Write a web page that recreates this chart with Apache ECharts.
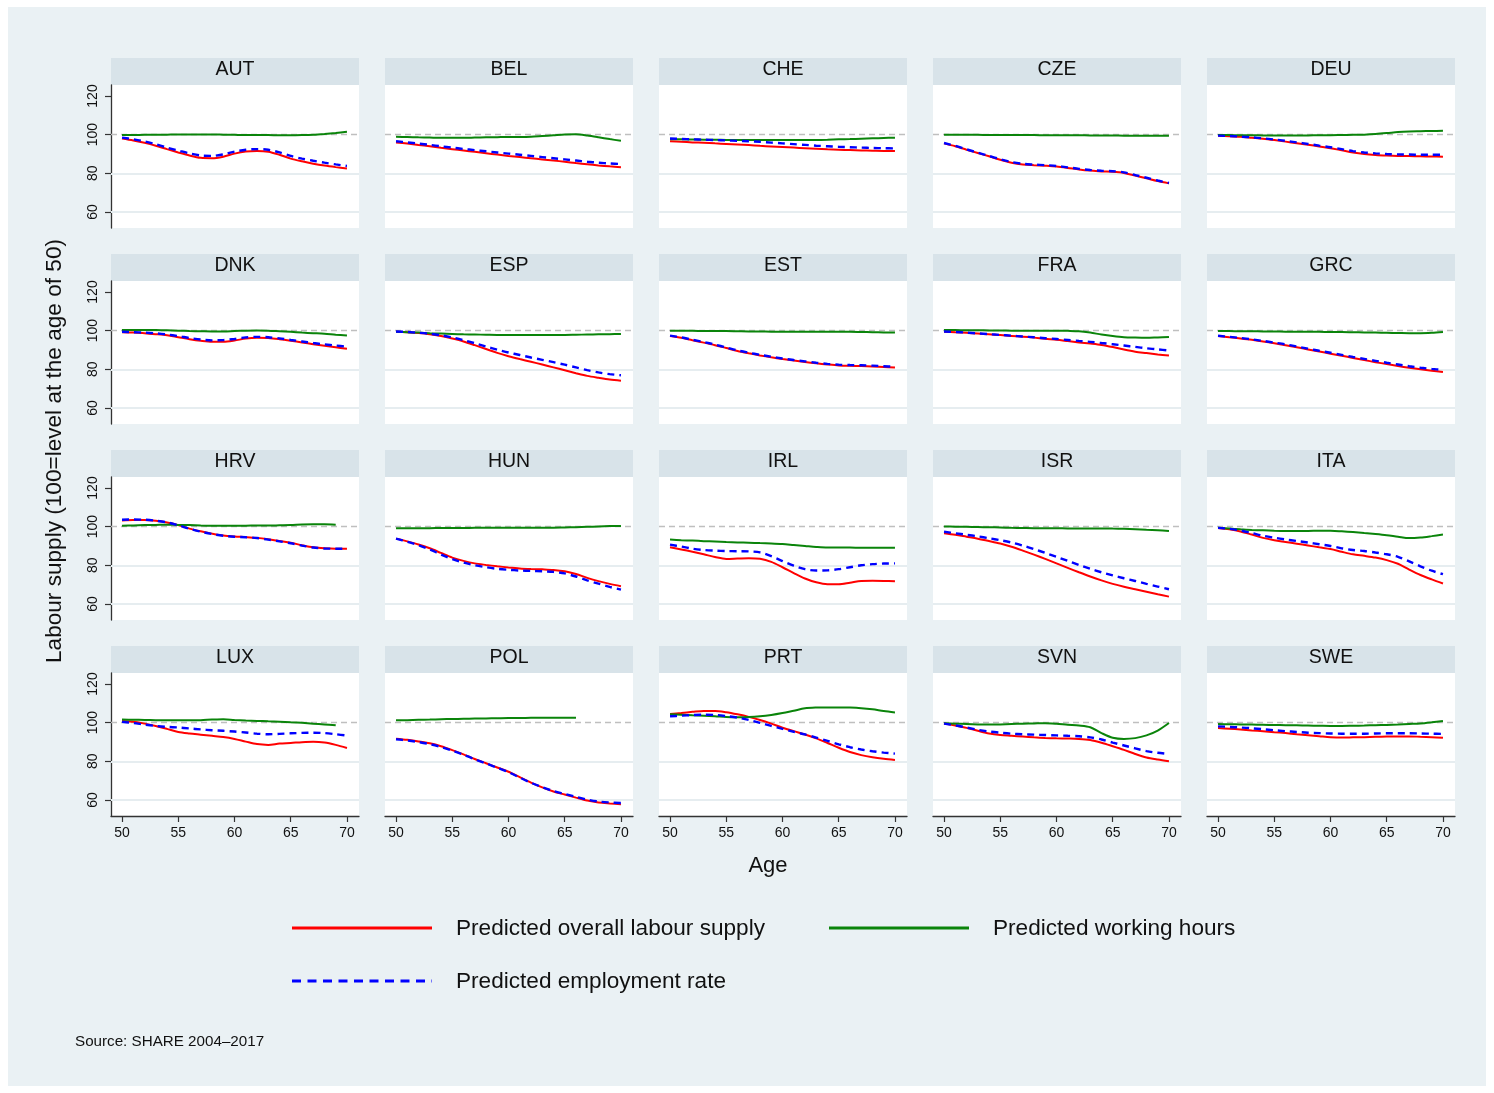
<!DOCTYPE html>
<html>
<head>
<meta charset="utf-8">
<title>Labour supply by age</title>
<script src="https://cdn.jsdelivr.net/npm/echarts@6/dist/echarts.min.js"></script>
<style>
  html, body { margin: 0; padding: 0; background: #ffffff; }
  #chart { width: 1494px; height: 1093px; }
</style>
</head>
<body>
<div id="chart"></div>
<script>
// Ages on the horizontal axis
const ages = [50, 51, 52, 53, 54, 55, 56, 57, 58, 59, 60, 61, 62, 63, 64, 65, 66, 67, 68, 69, 70];
const countries = ['AUT', 'BEL', 'CHE', 'CZE', 'DEU', 'DNK', 'ESP', 'EST', 'FRA', 'GRC',
                   'HRV', 'HUN', 'IRL', 'ISR', 'ITA', 'LUX', 'POL', 'PRT', 'SVN', 'SWE'];
const yTicks = [60, 80, 100, 120];
const xTicks = [50, 55, 60, 65, 70];
const seriesNames = ['Predicted overall labour supply', 'Predicted working hours', 'Predicted employment rate'];

// Predicted overall labour supply (100 = level at age 50), one row per country
const laborSupply = [
  [98, 97, 95.8, 94.3, 92.5, 90.8, 89.2, 88, 87.8, 88.6, 90.2, 91.3, 91.6, 91.2, 89.6, 87.6, 86.2, 85, 84, 83.2, 82.5],
  [96, 95.4, 94.7, 94, 93.2, 92.5, 91.8, 91.1, 90.4, 89.7, 89, 88.4, 87.8, 87.2, 86.6, 86, 85.3, 84.7, 84.1, 83.6, 83.2],
  [96.6, 96.3, 96, 95.8, 95.5, 95.2, 94.9, 94.6, 94.2, 93.9, 93.6, 93.3, 93, 92.7, 92.4, 92.2, 92, 91.8, 91.7, 91.6, 91.6],
  [95.5, 94, 92.2, 90.5, 88.8, 87, 85.5, 84.6, 84.2, 83.9, 83.5, 82.8, 82, 81.4, 81, 80.8, 80.2, 78.8, 77.4, 76, 74.8],
  [99.4, 99.2, 98.9, 98.4, 97.9, 97.2, 96.4, 95.6, 94.8, 93.9, 93, 91.9, 90.8, 90, 89.5, 89.2, 89, 88.9, 88.8, 88.7, 88.6],
  [99.2, 99, 98.7, 98.2, 97.6, 96.6, 95.6, 94.8, 94.3, 94.3, 94.9, 95.9, 96.3, 96.2, 95.6, 94.8, 93.9, 93, 92.2, 91.4, 90.6],
  [99.5, 99.2, 98.8, 98.2, 97.2, 95.9, 94.4, 92.5, 90.5, 88.5, 86.8, 85.3, 83.9, 82.5, 81, 79.5, 78, 76.6, 75.6, 74.7, 74.1],
  [97.2, 96.3, 95, 93.8, 92.5, 91, 89.5, 88.3, 87.2, 86.2, 85.3, 84.5, 83.8, 83.1, 82.5, 82, 81.8, 81.7, 81.5, 81.2, 80.9],
  [99.5, 99.2, 98.9, 98.5, 98.1, 97.7, 97.3, 96.9, 96.4, 95.8, 95.3, 94.6, 93.9, 93.3, 92.6, 91.5, 90.2, 89.1, 88.4, 87.7, 87.1],
  [97.2, 96.6, 96, 95.3, 94.4, 93.5, 92.5, 91.4, 90.3, 89.2, 88.1, 87, 85.9, 84.8, 83.7, 82.7, 81.7, 80.8, 80, 79.3, 78.6],
  [103.2, 103.4, 103.4, 103, 102.2, 100.8, 99, 97.6, 96.4, 95.4, 94.9, 94.6, 94.2, 93.5, 92.6, 91.7, 90.4, 89.3, 88.8, 88.6, 88.6],
  [93.8, 92.4, 90.8, 88.8, 86.4, 84, 82.3, 81, 80.2, 79.5, 78.9, 78.4, 78.1, 77.9, 77.6, 76.9, 75.5, 73.5, 71.8, 70.4, 69.2],
  [89.3, 88.2, 87, 85.7, 84.3, 83.3, 83.5, 83.7, 83.4, 81.8, 79, 76, 73.2, 71.2, 70.2, 70.2, 71, 71.9, 72, 71.9, 71.7],
  [96.6, 95.8, 94.8, 93.8, 92.6, 91.3, 89.6, 87.6, 85.5, 83.3, 81, 78.7, 76.4, 74.2, 72.2, 70.4, 68.9, 67.6, 66.3, 65, 63.8],
  [99.3, 98.6, 97.5, 95.9, 94.2, 93, 92.1, 91.2, 90.3, 89.3, 88.4, 87, 85.7, 84.9, 84, 82.7, 80.8, 77.8, 75, 72.7, 70.6],
  [100.9, 100.5, 99.5, 98.3, 96.8, 95.2, 94.4, 93.8, 93.2, 92.6, 91.6, 90.2, 88.9, 88.5, 89.2, 89.5, 89.9, 90.1, 89.7, 88.5, 86.9],
  [91.7, 91.1, 90.3, 89.3, 87.8, 85.8, 83.6, 81.2, 79, 76.8, 74.6, 71.8, 69, 66.5, 64.4, 62.8, 61.2, 59.7, 58.7, 58.2, 57.8],
  [104.5, 105, 105.6, 106.1, 106.1, 105.4, 104.3, 103, 101.4, 99.5, 97.4, 95.6, 93.9, 91.9, 89.5, 87, 84.8, 83.2, 82.1, 81.3, 80.7],
  [99.6, 98.5, 97.3, 95.8, 94.4, 93.6, 93.2, 92.8, 92.4, 92.1, 91.9, 91.8, 91.6, 91, 89.6, 87.8, 85.9, 83.8, 82, 80.9, 80],
  [97.2, 96.9, 96.5, 96, 95.6, 95.1, 94.6, 94, 93.5, 93, 92.5, 92.3, 92.4, 92.5, 92.7, 92.8, 92.9, 92.9, 92.7, 92.5, 92.2]
];

// Predicted employment rate (100 = level at age 50)
const employmentRate = [
  [98.5, 97.6, 96.5, 95, 93.3, 91.8, 90.3, 89.2, 89, 89.8, 91.2, 92.2, 92.5, 92.2, 90.8, 89, 87.6, 86.5, 85.5, 84.6, 83.8],
  [96.6, 96, 95.4, 94.7, 94, 93.3, 92.6, 92, 91.4, 90.8, 90.2, 89.6, 89, 88.4, 87.8, 87.2, 86.6, 86, 85.5, 85.1, 84.8],
  [98, 97.8, 97.6, 97.4, 97.2, 97, 96.8, 96.6, 96.3, 95.9, 95.5, 95.1, 94.7, 94.3, 94, 93.7, 93.5, 93.3, 93.1, 93, 92.9],
  [95.7, 94.2, 92.4, 90.7, 89, 87.3, 85.8, 84.9, 84.5, 84.2, 83.8, 83.1, 82.3, 81.7, 81.3, 81.1, 80.5, 79.1, 77.7, 76.3, 75],
  [99.5, 99.3, 99, 98.6, 98.1, 97.5, 96.8, 96, 95.2, 94.3, 93.5, 92.5, 91.5, 90.8, 90.3, 90, 89.8, 89.7, 89.6, 89.6, 89.6],
  [99.4, 99.2, 99, 98.6, 98, 97.2, 96.2, 95.4, 95, 95.1, 95.7, 96.5, 96.8, 96.6, 96, 95.2, 94.4, 93.6, 92.9, 92.3, 91.7],
  [99.6, 99.3, 98.9, 98.4, 97.6, 96.5, 95.1, 93.5, 91.8, 90.2, 88.7, 87.4, 86.1, 84.9, 83.7, 82.4, 81, 79.6, 78.4, 77.5, 76.9],
  [97.4, 96.5, 95.3, 94.1, 92.8, 91.3, 89.8, 88.6, 87.5, 86.5, 85.6, 84.8, 84.1, 83.4, 82.8, 82.4, 82.2, 82.1, 81.9, 81.6, 81.3],
  [99.6, 99.3, 99, 98.6, 98.2, 97.8, 97.4, 97, 96.6, 96.1, 95.7, 95.2, 94.7, 94.2, 93.6, 93, 92.3, 91.6, 90.9, 90.3, 89.7],
  [97.4, 96.8, 96.2, 95.5, 94.7, 93.8, 92.9, 91.8, 90.7, 89.6, 88.6, 87.5, 86.4, 85.4, 84.4, 83.4, 82.5, 81.6, 80.8, 80.2, 79.7],
  [103.6, 103.7, 103.6, 103.1, 102.2, 100.7, 98.9, 97.4, 96.2, 95.3, 94.8, 94.5, 94.1, 93.3, 92.4, 91.4, 90.2, 89.2, 88.7, 88.6, 88.6],
  [93.8, 92.2, 90.4, 88.2, 85.6, 83.2, 81.4, 80, 79, 78.2, 77.7, 77.3, 77.1, 76.9, 76.6, 75.8, 74.2, 72.2, 70.5, 68.8, 67.4],
  [90.7, 89.7, 88.6, 87.9, 87.6, 87.4, 87.3, 87.2, 86.7, 84.8, 82.2, 79.8, 78, 77.3, 77.4, 78, 79, 80, 80.6, 80.9, 81],
  [97.4, 96.6, 95.8, 95, 94, 93, 91.8, 90.2, 88.4, 86.4, 84.4, 82.3, 80.2, 78.2, 76.4, 74.8, 73.3, 71.9, 70.4, 69, 67.6],
  [99.4, 98.9, 98, 96.7, 95.3, 94.3, 93.4, 92.6, 91.8, 90.9, 90, 88.8, 87.9, 87.4, 86.6, 85.7, 84.4, 82, 79.5, 77.2, 75.4],
  [100.4, 99.8, 99, 98.3, 97.8, 97.5, 97, 96.5, 96.1, 95.8, 95.4, 94.9, 94.3, 94, 94.2, 94.5, 94.7, 94.8, 94.6, 94, 93.3],
  [91.4, 90.8, 90, 88.9, 87.4, 85.5, 83.4, 81.1, 78.9, 76.7, 74.4, 71.6, 68.9, 66.6, 64.6, 63.1, 61.6, 60.2, 59.2, 58.7, 58.4],
  [103.3, 103.6, 103.9, 104.1, 104, 103.4, 102.6, 101.4, 99.9, 98.3, 96.8, 95.3, 93.9, 92.3, 90.6, 88.8, 87.3, 86.1, 85.2, 84.5, 84],
  [99.5, 98.6, 97.5, 96.3, 95.4, 94.8, 94.3, 94, 93.8, 93.6, 93.4, 93.2, 93, 92.4, 91.3, 89.7, 88.2, 86.7, 85.3, 84.4, 83.8],
  [98.1, 97.8, 97.5, 97.1, 96.6, 96.1, 95.6, 95.2, 94.8, 94.6, 94.4, 94.3, 94.3, 94.3, 94.4, 94.5, 94.5, 94.5, 94.4, 94.3, 94.2]
];

// Predicted working hours (100 = level at age 50); null where no estimate exists
const workingHours = [
  [99.8, 99.8, 99.9, 99.9, 100, 100.1, 100.1, 100.1, 100.1, 100, 99.9, 99.8, 99.8, 99.8, 99.7, 99.7, 99.8, 100, 100.4, 100.9, 101.5],
  [98.9, 98.8, 98.6, 98.5, 98.4, 98.4, 98.4, 98.5, 98.6, 98.7, 98.8, 98.8, 98.9, 99.3, 99.7, 100.1, 100.2, 99.6, 98.7, 97.7, 96.8],
  [97.6, 97.6, 97.5, 97.4, 97.4, 97.3, 97.3, 97.2, 97.2, 97.2, 97.2, 97.2, 97.3, 97.3, 97.4, 97.6, 97.7, 97.9, 98.1, 98.3, 98.4],
  [99.9, 99.9, 99.9, 99.9, 99.8, 99.8, 99.8, 99.8, 99.8, 99.7, 99.7, 99.7, 99.7, 99.6, 99.6, 99.6, 99.5, 99.5, 99.5, 99.4, 99.4],
  [99.8, 99.8, 99.7, 99.7, 99.6, 99.6, 99.6, 99.6, 99.6, 99.7, 99.7, 99.8, 99.9, 100, 100.3, 100.8, 101.4, 101.7, 101.8, 101.9, 102],
  [100.4, 100.4, 100.4, 100.3, 100.2, 100, 99.8, 99.7, 99.6, 99.6, 99.8, 100, 100.1, 100, 99.7, 99.4, 99, 98.7, 98.4, 97.9, 97.5],
  [99.5, 99.2, 99, 98.7, 98.5, 98.3, 98.1, 98, 97.9, 97.8, 97.8, 97.7, 97.7, 97.7, 97.8, 97.8, 97.9, 98, 98.1, 98.2, 98.3],
  [99.9, 99.9, 99.9, 99.8, 99.8, 99.8, 99.7, 99.6, 99.6, 99.5, 99.5, 99.5, 99.5, 99.4, 99.4, 99.4, 99.4, 99.3, 99.2, 99.1, 99],
  [100.3, 100.3, 100.2, 100.2, 100.1, 100.1, 100, 100, 99.9, 99.9, 100, 99.9, 99.7, 99, 98, 97.2, 96.6, 96.4, 96.3, 96.5, 96.7],
  [99.8, 99.8, 99.7, 99.7, 99.6, 99.6, 99.5, 99.5, 99.4, 99.4, 99.3, 99.3, 99.2, 99.1, 99, 98.9, 98.8, 98.7, 98.7, 98.9, 99.3],
  [100.5, 100.6, 100.8, 100.9, 101, 100.9, 100.8, 100.6, 100.5, 100.5, 100.5, 100.5, 100.6, 100.6, 100.7, 100.8, 101.1, 101.2, 101.2, 101, null],
  [99.2, 99.2, 99.2, 99.2, 99.3, 99.3, 99.3, 99.4, 99.4, 99.4, 99.4, 99.4, 99.4, 99.5, 99.5, 99.6, 99.7, 99.9, 100.1, 100.3, 100.4],
  [93.3, 93, 92.8, 92.5, 92.3, 92, 91.8, 91.7, 91.5, 91.3, 91, 90.5, 90, 89.5, 89.2, 89.2, 89.2, 89.1, 89.1, 89.1, 89.1],
  [100.1, 100, 99.9, 99.8, 99.7, 99.6, 99.4, 99.3, 99.2, 99.2, 99.2, 99.1, 99.1, 99.1, 99.1, 99, 98.9, 98.7, 98.4, 98.1, 97.8],
  [99.4, 99, 98.6, 98.3, 98.1, 97.9, 97.8, 97.8, 97.8, 97.9, 97.9, 97.6, 97.2, 96.7, 96.2, 95.6, 94.8, 94.1, 94.4, 95.1, 95.9],
  [101.6, 101.5, 101.4, 101.3, 101.2, 101.2, 101.2, 101.3, 101.6, 101.8, 101.4, 101.1, 100.9, 100.7, 100.5, 100.2, 99.9, 99.5, 99.1, 98.6, null],
  [101.2, 101.3, 101.5, 101.6, 101.8, 101.9, 102, 102.1, 102.2, 102.3, 102.4, 102.4, 102.5, 102.5, 102.5, 102.5, 102.5, null, null, null, null],
  [104.3, 104.1, 103.8, 103.6, 103.3, 102.9, 102.8, 102.9, 103.3, 104, 105, 106.2, 107.4, 107.8, 107.9, 107.9, 107.8, 107.5, 106.9, 106, 105.3],
  [99.7, 99.5, 99.3, 99.1, 99, 99.1, 99.3, 99.5, 99.6, 99.7, 99.4, 98.9, 98.5, 97.6, 94.6, 92.2, 91.6, 92, 93.4, 95.9, 99.8],
  [99.3, 99.2, 99.1, 99, 98.9, 98.8, 98.7, 98.6, 98.5, 98.4, 98.3, 98.3, 98.4, 98.5, 98.7, 98.8, 99, 99.3, 99.6, 100.2, 100.9]
];

const FONT = '"Liberation Sans", Arial, Helvetica, sans-serif';
const COLORS = { supply: '#ff0000', hours: '#0a840a', employment: '#0000ff' };

// Panel layout: 4 rows x 5 columns
const COLS = 5;
const panelLeft = 111, panelTop = 85, panelW = 248, panelH = 143, stepX = 274, stepY = 196, stripH = 27;

const grids = [], xAxes = [], yAxes = [], series = [], graphics = [];

// Outer backdrop
graphics.push({ type: 'rect', shape: { x: 8, y: 7, width: 1478, height: 1079 },
  style: { fill: '#eaf1f4' }, z: -10, silent: true });

const pairs = v => ages.map((a, i) => [a, v[i]]);

countries.forEach((code, k) => {
  const r = Math.floor(k / COLS), c = k % COLS;
  const left = panelLeft + c * stepX, top = panelTop + r * stepY;
  const firstCol = c === 0, lastRow = r === 3;

  grids.push({ left: left, top: top, width: panelW, height: panelH,
    show: true, backgroundColor: '#ffffff', borderWidth: 0 });

  graphics.push({ type: 'rect', shape: { x: left, y: top - stripH, width: panelW, height: stripH },
    style: { fill: '#d8e3e9' }, silent: true });
  graphics.push({ type: 'text', x: left + panelW / 2, y: top - stripH / 2 - 2, silent: true,
    style: { text: code, fontSize: 19.5, fontFamily: FONT, fill: '#111', align: 'center', verticalAlign: 'middle' } });

  xAxes.push({ gridIndex: k, type: 'value', min: 49.02, max: 71.07,
    axisLine: { show: lastRow, onZero: false, lineStyle: { color: '#333', width: 1.3 } },
    axisTick: { show: lastRow, length: 6, customValues: xTicks, lineStyle: { color: '#333', width: 1.2 } },
    axisLabel: { show: lastRow, customValues: xTicks, fontSize: 14, fontFamily: FONT, color: '#111', margin: 10 },
    splitLine: { show: false } });

  yAxes.push({ gridIndex: k, type: 'value', min: 51.7, max: 125.7,
    axisLine: { show: firstCol, onZero: false, lineStyle: { color: '#333', width: 1.3 } },
    axisTick: { show: firstCol, length: 6, customValues: yTicks, lineStyle: { color: '#333', width: 1.2 } },
    axisLabel: { show: firstCol, customValues: yTicks, rotate: 90, fontSize: 14, fontFamily: FONT, color: '#111', margin: 11 },
    splitLine: { show: false } });

  const base = { type: 'line', xAxisIndex: k, yAxisIndex: k, showSymbol: false, symbol: 'none',
    smooth: 0.3, silent: true, animation: false, connectNulls: false };

  series.push(Object.assign({}, base, {
    name: seriesNames[0], data: pairs(laborSupply[k]), z: 3,
    lineStyle: { color: COLORS.supply, width: 2 },
    markLine: { silent: true, symbol: 'none', z: 1, animation: false, label: { show: false },
      data: [
        { yAxis: yTicks[0], lineStyle: { color: '#e6edf0', width: 2, type: 'solid' } },
        { yAxis: yTicks[1], lineStyle: { color: '#e6edf0', width: 2, type: 'solid' } },
        { yAxis: yTicks[2], lineStyle: { color: '#bfbfbf', width: 1.3, type: [6, 4] } }
      ] }
  }));
  series.push(Object.assign({}, base, {
    name: seriesNames[1], data: pairs(workingHours[k]), z: 4,
    lineStyle: { color: COLORS.hours, width: 2 }
  }));
  series.push(Object.assign({}, base, {
    name: seriesNames[2], data: pairs(employmentRate[k]), z: 5,
    lineStyle: { color: COLORS.employment, width: 2.4, type: [7, 5] }
  }));
});

// Axis titles
graphics.push({ type: 'text', x: 55, y: 451, rotation: Math.PI / 2, silent: true,
  style: { text: 'Labour supply (100=level at the age of 50)', fontSize: 22.6, fontFamily: FONT, fill: '#111',
    align: 'center', verticalAlign: 'middle' } });
graphics.push({ type: 'text', x: 768, y: 866, silent: true,
  style: { text: 'Age', fontSize: 22, fontFamily: FONT, fill: '#111', align: 'center', verticalAlign: 'middle' } });

// Legend keys
const legendItems = [
  { name: seriesNames[0], x: 292, y: 928, color: COLORS.supply, dash: null },
  { name: seriesNames[1], x: 829, y: 928, color: COLORS.hours, dash: null },
  { name: seriesNames[2], x: 292, y: 981, color: COLORS.employment, dash: [9, 6.5] }
];
legendItems.forEach(it => {
  graphics.push({ type: 'line', silent: true, shape: { x1: it.x, y1: it.y, x2: it.x + 140, y2: it.y },
    style: { stroke: it.color, lineWidth: 3, lineDash: it.dash || null } });
  graphics.push({ type: 'text', x: it.x + 164, y: it.y + 1, silent: true,
    style: { text: it.name, fontSize: 22.6, fontFamily: FONT, fill: '#111', align: 'left', verticalAlign: 'middle' } });
});

// Note
graphics.push({ type: 'text', x: 75, y: 1042, silent: true,
  style: { text: 'Source: SHARE 2004\u20132017', fontSize: 15.2, fontFamily: FONT, fill: '#111', align: 'left', verticalAlign: 'middle' } });

const chart = echarts.init(document.getElementById('chart'), null, { renderer: 'canvas' });
chart.setOption({
  animation: false,
  backgroundColor: '#ffffff',
  textStyle: { fontFamily: FONT },
  grid: grids,
  xAxis: xAxes,
  yAxis: yAxes,
  series: series,
  graphic: { elements: graphics }
});
</script>
</body>
</html>
